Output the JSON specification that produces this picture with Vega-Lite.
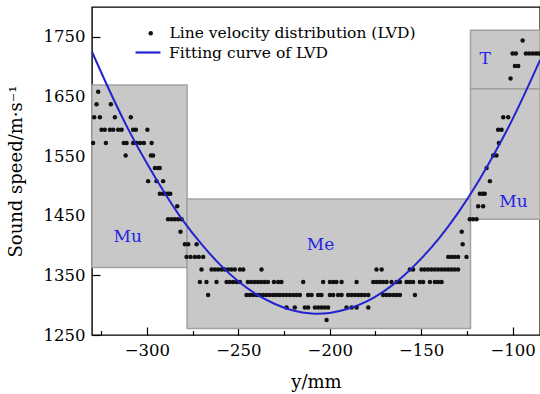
{
  "$schema": "https://vega.github.io/schema/vega-lite/v6.json",
  "width": 448,
  "height": 328,
  "autosize": {"type": "none"},
  "padding": {"left": 92, "top": 7, "right": 0, "bottom": 59},
  "background": "white",
  "config": {
    "view": {"stroke": "black", "strokeWidth": 1.4},
    "font": "DejaVu Serif"
  },
  "datasets": {
    "regions": [
      {"x1": -330, "x2": -278, "y1": 1363, "y2": 1669},
      {"x1": -278, "x2": -123, "y1": 1261, "y2": 1478},
      {"x1": -123, "x2": -85, "y1": 1444, "y2": 1663},
      {"x1": -123, "x2": -85, "y1": 1663, "y2": 1761}
    ],
    "labels": [
      {"pos": -310.5, "speed": 1414, "text": "Mu"},
      {"pos": -205, "speed": 1401, "text": "Me"},
      {"pos": -99.5, "speed": 1473, "text": "Mu"},
      {"pos": -115, "speed": 1713, "text": "T"}
    ],
    "curve": [
      {"pos": -330, "speed": 1725}, {"pos": -320, "speed": 1657}, {"pos": -310, "speed": 1594},
      {"pos": -300, "speed": 1538}, {"pos": -290, "speed": 1487}, {"pos": -280, "speed": 1441},
      {"pos": -270, "speed": 1402}, {"pos": -260, "speed": 1368}, {"pos": -250, "speed": 1340},
      {"pos": -240, "speed": 1318}, {"pos": -230, "speed": 1302}, {"pos": -220, "speed": 1291},
      {"pos": -210, "speed": 1286}, {"pos": -200, "speed": 1287}, {"pos": -190, "speed": 1294},
      {"pos": -180, "speed": 1306}, {"pos": -170, "speed": 1324}, {"pos": -160, "speed": 1348},
      {"pos": -150, "speed": 1378}, {"pos": -140, "speed": 1413}, {"pos": -130, "speed": 1454},
      {"pos": -120, "speed": 1501}, {"pos": -110, "speed": 1554}, {"pos": -100, "speed": 1612},
      {"pos": -90, "speed": 1677}, {"pos": -85, "speed": 1711}
    ],
    "points": [
      {"pos": -201.7, "speed": 1275},
      {"pos": -223.6, "speed": 1296}, {"pos": -219.1, "speed": 1296}, {"pos": -213.6, "speed": 1296}, {"pos": -211.8, "speed": 1296}, {"pos": -208.1, "speed": 1296}, {"pos": -206.3, "speed": 1296}, {"pos": -204.5, "speed": 1296}, {"pos": -202.7, "speed": 1296}, {"pos": -200.9, "speed": 1296}, {"pos": -190.8, "speed": 1296}, {"pos": -188, "speed": 1296}, {"pos": -185.3, "speed": 1296}, {"pos": -178.9, "speed": 1296},
      {"pos": -266.5, "speed": 1317}, {"pos": -245.5, "speed": 1317}, {"pos": -243.7, "speed": 1317}, {"pos": -241.9, "speed": 1317}, {"pos": -240, "speed": 1317}, {"pos": -238.2, "speed": 1317}, {"pos": -236.4, "speed": 1317}, {"pos": -234.5, "speed": 1317}, {"pos": -232.7, "speed": 1317}, {"pos": -230.9, "speed": 1317}, {"pos": -229.1, "speed": 1317}, {"pos": -227.3, "speed": 1317}, {"pos": -225.5, "speed": 1317}, {"pos": -223.6, "speed": 1317}, {"pos": -221.8, "speed": 1317}, {"pos": -220, "speed": 1317}, {"pos": -218.1, "speed": 1317}, {"pos": -216.3, "speed": 1317}, {"pos": -211.8, "speed": 1317}, {"pos": -209.9, "speed": 1317}, {"pos": -206.3, "speed": 1317}, {"pos": -204.5, "speed": 1317}, {"pos": -199.9, "speed": 1317}, {"pos": -198.1, "speed": 1317}, {"pos": -195.4, "speed": 1317}, {"pos": -193.5, "speed": 1317}, {"pos": -189.9, "speed": 1317}, {"pos": -188, "speed": 1317}, {"pos": -186.2, "speed": 1317}, {"pos": -184.4, "speed": 1317}, {"pos": -182.6, "speed": 1317}, {"pos": -180.8, "speed": 1317}, {"pos": -178.9, "speed": 1317}, {"pos": -170.8, "speed": 1317}, {"pos": -168.9, "speed": 1317}, {"pos": -167.1, "speed": 1317}, {"pos": -165.3, "speed": 1317}, {"pos": -163.4, "speed": 1317}, {"pos": -161.6, "speed": 1317}, {"pos": -153.4, "speed": 1317},
      {"pos": -271, "speed": 1339}, {"pos": -267.4, "speed": 1339}, {"pos": -261.9, "speed": 1339}, {"pos": -256.4, "speed": 1339}, {"pos": -254.6, "speed": 1339}, {"pos": -252.8, "speed": 1339}, {"pos": -250.9, "speed": 1339}, {"pos": -249.1, "speed": 1339}, {"pos": -244.8, "speed": 1339}, {"pos": -243, "speed": 1339}, {"pos": -241.1, "speed": 1339}, {"pos": -239.3, "speed": 1339}, {"pos": -237.5, "speed": 1339}, {"pos": -235.6, "speed": 1339}, {"pos": -233.8, "speed": 1339}, {"pos": -230.5, "speed": 1339}, {"pos": -228.2, "speed": 1339}, {"pos": -226.4, "speed": 1339}, {"pos": -214.5, "speed": 1339}, {"pos": -203.6, "speed": 1339}, {"pos": -199.9, "speed": 1339}, {"pos": -198.1, "speed": 1339}, {"pos": -196.3, "speed": 1339}, {"pos": -193.5, "speed": 1339}, {"pos": -185.3, "speed": 1339}, {"pos": -176.2, "speed": 1339}, {"pos": -174.4, "speed": 1339}, {"pos": -172.6, "speed": 1339}, {"pos": -170.8, "speed": 1339}, {"pos": -168.9, "speed": 1339}, {"pos": -166.2, "speed": 1339}, {"pos": -163.4, "speed": 1339}, {"pos": -161.6, "speed": 1339}, {"pos": -158, "speed": 1339}, {"pos": -156.2, "speed": 1339}, {"pos": -154.4, "speed": 1339}, {"pos": -150.7, "speed": 1339}, {"pos": -148.9, "speed": 1339}, {"pos": -145.2, "speed": 1339}, {"pos": -142.5, "speed": 1339}, {"pos": -140.7, "speed": 1339}, {"pos": -138.8, "speed": 1339},
      {"pos": -270.1, "speed": 1360}, {"pos": -264.6, "speed": 1360}, {"pos": -262.8, "speed": 1360}, {"pos": -261, "speed": 1360}, {"pos": -259.1, "speed": 1360}, {"pos": -257.3, "speed": 1360}, {"pos": -255.5, "speed": 1360}, {"pos": -253.7, "speed": 1360}, {"pos": -251.9, "speed": 1360}, {"pos": -249.1, "speed": 1360}, {"pos": -247.3, "speed": 1360}, {"pos": -237.3, "speed": 1360}, {"pos": -174.4, "speed": 1360}, {"pos": -171.6, "speed": 1360}, {"pos": -156.2, "speed": 1360}, {"pos": -154.4, "speed": 1360}, {"pos": -149.8, "speed": 1360}, {"pos": -148, "speed": 1360}, {"pos": -146.2, "speed": 1360}, {"pos": -144.3, "speed": 1360}, {"pos": -142.5, "speed": 1360}, {"pos": -140.7, "speed": 1360}, {"pos": -138.8, "speed": 1360}, {"pos": -137, "speed": 1360}, {"pos": -135.2, "speed": 1360}, {"pos": -133.4, "speed": 1360}, {"pos": -131.6, "speed": 1360}, {"pos": -129.8, "speed": 1360},
      {"pos": -278.3, "speed": 1381}, {"pos": -276.1, "speed": 1381}, {"pos": -273.7, "speed": 1381}, {"pos": -271.6, "speed": 1381}, {"pos": -269.2, "speed": 1381}, {"pos": -135.2, "speed": 1381}, {"pos": -133.4, "speed": 1381}, {"pos": -131.6, "speed": 1381}, {"pos": -129.8, "speed": 1381}, {"pos": -125.2, "speed": 1381},
      {"pos": -279.2, "speed": 1402}, {"pos": -277.4, "speed": 1402}, {"pos": -272.8, "speed": 1402}, {"pos": -127.3, "speed": 1402},
      {"pos": -281.6, "speed": 1423}, {"pos": -127.8, "speed": 1423},
      {"pos": -288.4, "speed": 1444}, {"pos": -286.5, "speed": 1444}, {"pos": -284.7, "speed": 1444}, {"pos": -282.9, "speed": 1444}, {"pos": -281, "speed": 1444}, {"pos": -123.4, "speed": 1444}, {"pos": -121.6, "speed": 1444}, {"pos": -119.7, "speed": 1444},
      {"pos": -283.4, "speed": 1466}, {"pos": -118.8, "speed": 1466}, {"pos": -116.1, "speed": 1466},
      {"pos": -292.9, "speed": 1487}, {"pos": -291.1, "speed": 1487}, {"pos": -289.6, "speed": 1487}, {"pos": -288.4, "speed": 1487}, {"pos": -287.2, "speed": 1487}, {"pos": -117.9, "speed": 1487}, {"pos": -116.4, "speed": 1487}, {"pos": -115.2, "speed": 1487},
      {"pos": -299.3, "speed": 1508}, {"pos": -294.7, "speed": 1508}, {"pos": -291.1, "speed": 1508}, {"pos": -112.4, "speed": 1508},
      {"pos": -295.6, "speed": 1530}, {"pos": -293.8, "speed": 1530}, {"pos": -292.9, "speed": 1530}, {"pos": -114.2, "speed": 1530},
      {"pos": -311.6, "speed": 1551}, {"pos": -297.8, "speed": 1551}, {"pos": -296.6, "speed": 1551}, {"pos": -110.6, "speed": 1551}, {"pos": -108.8, "speed": 1551},
      {"pos": -329.4, "speed": 1572}, {"pos": -322.4, "speed": 1572}, {"pos": -312.6, "speed": 1572}, {"pos": -311.1, "speed": 1572}, {"pos": -307.5, "speed": 1572}, {"pos": -305.5, "speed": 1572}, {"pos": -303.6, "speed": 1572}, {"pos": -301.6, "speed": 1572}, {"pos": -297.4, "speed": 1572}, {"pos": -107.5, "speed": 1572},
      {"pos": -324.8, "speed": 1594}, {"pos": -323, "speed": 1594}, {"pos": -320.2, "speed": 1594}, {"pos": -318.4, "speed": 1594}, {"pos": -315.7, "speed": 1594}, {"pos": -313.8, "speed": 1594}, {"pos": -307.5, "speed": 1594}, {"pos": -306, "speed": 1594}, {"pos": -299.7, "speed": 1594}, {"pos": -107.9, "speed": 1594}, {"pos": -106, "speed": 1594},
      {"pos": -328.8, "speed": 1615}, {"pos": -325.7, "speed": 1615}, {"pos": -317.5, "speed": 1615}, {"pos": -308.8, "speed": 1615}, {"pos": -105.1, "speed": 1615}, {"pos": -102.4, "speed": 1615},
      {"pos": -327.5, "speed": 1637}, {"pos": -319.7, "speed": 1637},
      {"pos": -326.6, "speed": 1658},
      {"pos": -101.1, "speed": 1680},
      {"pos": -98.7, "speed": 1701}, {"pos": -96.9, "speed": 1701},
      {"pos": -100, "speed": 1722}, {"pos": -98.2, "speed": 1722}, {"pos": -92.7, "speed": 1722}, {"pos": -90.9, "speed": 1722}, {"pos": -89, "speed": 1722}, {"pos": -87.2, "speed": 1722}, {"pos": -85.6, "speed": 1722},
      {"pos": -94.5, "speed": 1744}
    ]
  },
  "layer": [
    {
      "data": {"name": "regions"},
      "mark": {"type": "rect", "fill": "#c8c8c8", "stroke": "#a2a2a2", "strokeWidth": 1.5},
      "encoding": {
        "x": {
          "field": "x1", "type": "quantitative",
          "scale": {"domain": [-330, -85], "nice": false, "zero": false},
          "axis": {
            "values": [-325, -312.5, -300, -287.5, -275, -262.5, -250, -237.5, -225, -212.5, -200, -187.5, -175, -162.5, -150, -137.5, -125, -112.5, -100, -87.5],
            "format": "d",
            "labelExpr": "datum.value % 50 === 0 ? datum.label : ''",
            "tickSize": {"condition": {"test": "datum.value % 50 === 0", "value": -8}, "value": -4.5},
            "tickColor": "black", "tickWidth": 1.2,
            "labelPadding": 15,
            "domain": false, "grid": false,
            "labelFont": "DejaVu Serif", "labelFontSize": 16.5, "labelColor": "black",
            "labelOverlap": false, "labelFlush": false,
            "title": "y/mm", "titleFont": "DejaVu Serif", "titleFontSize": 18, "titleFontWeight": "normal", "titleColor": "black",
            "titleY": 52, "titleBaseline": "alphabetic"
          }
        },
        "x2": {"field": "x2"},
        "y": {
          "field": "y1", "type": "quantitative",
          "scale": {"domain": [1250, 1800], "nice": false, "zero": false},
          "axis": {
            "values": [1250, 1275, 1300, 1325, 1350, 1375, 1400, 1425, 1450, 1475, 1500, 1525, 1550, 1575, 1600, 1625, 1650, 1675, 1700, 1725, 1750, 1775, 1800],
            "format": "d",
            "labelExpr": "datum.value % 100 === 50 ? datum.label : ''",
            "tickSize": {"condition": {"test": "datum.value % 100 === 50", "value": -8}, "value": -4.5},
            "tickColor": "black", "tickWidth": 1.2,
            "labelPadding": 15,
            "domain": false, "grid": false,
            "labelFont": "DejaVu Serif", "labelFontSize": 16.5, "labelColor": "black",
            "labelOverlap": false, "labelFlush": false,
            "title": "Sound speed/m·s⁻¹", "titleFont": "DejaVu Serif", "titleFontSize": 18, "titleFontWeight": "normal", "titleColor": "black",
            "titleX": -76, "titleBaseline": "middle"
          }
        },
        "y2": {"field": "y2"}
      }
    },
    {
      "data": {"name": "points"},
      "mark": {"type": "point", "filled": true, "size": 20, "opacity": 1},
      "encoding": {
        "x": {"field": "pos", "type": "quantitative"},
        "y": {"field": "speed", "type": "quantitative"},
        "fill": {
          "datum": "Line velocity distribution (LVD)",
          "scale": {"range": ["#111111"]},
          "legend": {"orient": "none", "legendX": 51, "legendY": 18.5, "title": null, "symbolSize": 20, "labelOffset": 11, "labelLimit": 0, "padding": 0, "labelFont": "DejaVu Serif", "labelFontSize": 15.5, "labelColor": "black"}
        }
      }
    },
    {
      "data": {"name": "curve"},
      "mark": {"type": "line", "strokeWidth": 2, "interpolate": "natural"},
      "encoding": {
        "x": {"field": "pos", "type": "quantitative"},
        "y": {"field": "speed", "type": "quantitative"},
        "stroke": {
          "datum": "Fitting curve of LVD",
          "scale": {"range": ["#2323cf"]},
          "legend": {"orient": "none", "legendX": 42, "legendY": 31.5, "title": null, "symbolSize": 625, "symbolStrokeWidth": 2.2, "labelOffset": 7, "labelLimit": 0, "padding": 0, "labelFont": "DejaVu Serif", "labelFontSize": 15.5, "labelColor": "black"}
        }
      }
    },
    {
      "data": {"name": "labels"},
      "mark": {"type": "text", "font": "DejaVu Serif", "fontSize": 17, "color": "#2424e6", "align": "center", "baseline": "middle"},
      "encoding": {
        "x": {"field": "pos", "type": "quantitative"},
        "y": {"field": "speed", "type": "quantitative"},
        "text": {"field": "text"}
      }
    }
  ]
}
